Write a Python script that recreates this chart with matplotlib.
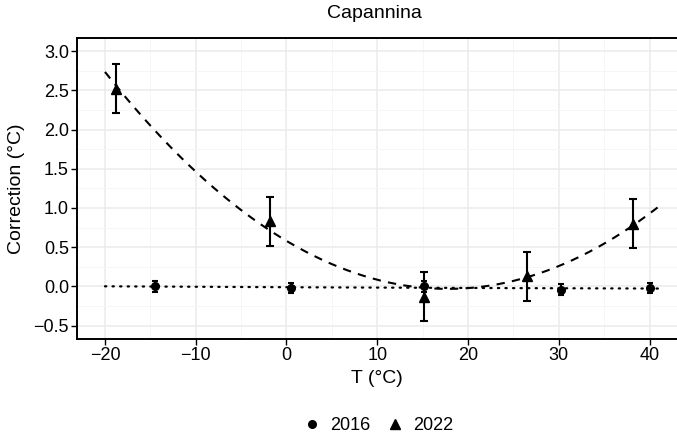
import matplotlib
matplotlib.use("Agg")
import matplotlib.pyplot as plt
from matplotlib.ticker import MultipleLocator
from matplotlib.lines import Line2D
import numpy as np

plt.rcParams['font.family'] = ['Liberation Sans', 'DejaVu Sans']

# data
t_2016 = [-14.5, 0.5, 15.1, 30.2, 40.0]
corr_2016 = [0.00, -0.02, 0.00, -0.04, -0.02]
err_2016 = [0.065, 0.065, 0.065, 0.065, 0.065]

t_2022 = [-18.8, -1.8, 15.1, 26.5, 38.2]
corr_2022 = [2.52, 0.83, -0.13, 0.13, 0.80]
err_2022 = [0.31, 0.31, 0.31, 0.31, 0.31]

fit_range = [-20, 41]
years = ['2016', '2022']

fig = plt.figure(figsize=(6.77, 4.38), dpi=100)
ax = fig.add_axes([77.3 / 677, 1 - 339 / 438, 1 - 77.3 / 677, (339 - 37.7) / 438])

# quadratic fits, like geom_smooth(formula = y ~ poly(x, 2))
xs = np.linspace(fit_range[0], fit_range[1], 200)
fit16 = np.polyval(np.polyfit(t_2016, corr_2016, 2), xs)
fit22 = np.polyval(np.polyfit(t_2022, corr_2022, 2), xs)
ax.plot(xs, fit16, color='black', lw=1.6, linestyle=(0, (0.6, 2.8)), dash_capstyle='round', zorder=3)
ax.plot(xs, fit22, color='black', lw=1.5, linestyle=(0, (4, 3.5)), zorder=3)

ax.errorbar(t_2016, corr_2016, yerr=err_2016, fmt='o', color='black', ms=5.5,
            elinewidth=1.5, capsize=2.5, capthick=1.5, zorder=4)
ax.errorbar(t_2022, corr_2022, yerr=err_2022, fmt='^', color='black', ms=7.5,
            elinewidth=1.5, capsize=3, capthick=1.5, zorder=4)

ax.set_xlim(-23.05, 43.03)
ax.set_ylim(-0.67, 3.17)
ax.xaxis.set_minor_locator(MultipleLocator(5))
ax.yaxis.set_minor_locator(MultipleLocator(0.25))
yt = np.arange(-0.5, 3.01, 0.5)
ax.set_yticks(yt)
ax.set_yticklabels([f"{v:.1f}".replace('-', '\u2212') for v in yt])
ax.set_xticks([-20, -10, 0, 10, 20, 30, 40])
ax.set_xticklabels(['\u221220', '\u221210', '0', '10', '20', '30', '40'])

ax.grid(which='major', color='#EBEBEB', lw=1.1, zorder=0)
ax.grid(which='minor', color='#F5F5F5', lw=0.6, zorder=0)
ax.set_axisbelow(True)
ax.tick_params(which='major', direction='out', length=4, width=1, color='black',
               labelsize=13, pad=2)
ax.tick_params(which='minor', length=0)
for side in ['left', 'bottom', 'top']:
    ax.spines[side].set_linewidth(1.4)
    ax.spines[side].set_color('black')
ax.spines['right'].set_visible(False)

ax.set_ylabel('Correction (°C)', fontsize=14, labelpad=6)
ax.set_xlabel('T (°C)', fontsize=14, labelpad=4)
fig.text(374 / 677, 1 - 14 / 438, 'Capannina', fontsize=14, ha='center', va='center')

handles = [Line2D([], [], marker='o', color='black', ls='none', ms=5.5),
           Line2D([], [], marker='^', color='black', ls='none', ms=7.5)]
fig.legend(handles, years, loc='center', bbox_to_anchor=(379 / 677, 1 - 426 / 438),
           ncol=2, frameon=False, fontsize=13, handlelength=0.8, handletextpad=0.6,
           columnspacing=1.0)

fig.savefig('out.png', dpi=100)
